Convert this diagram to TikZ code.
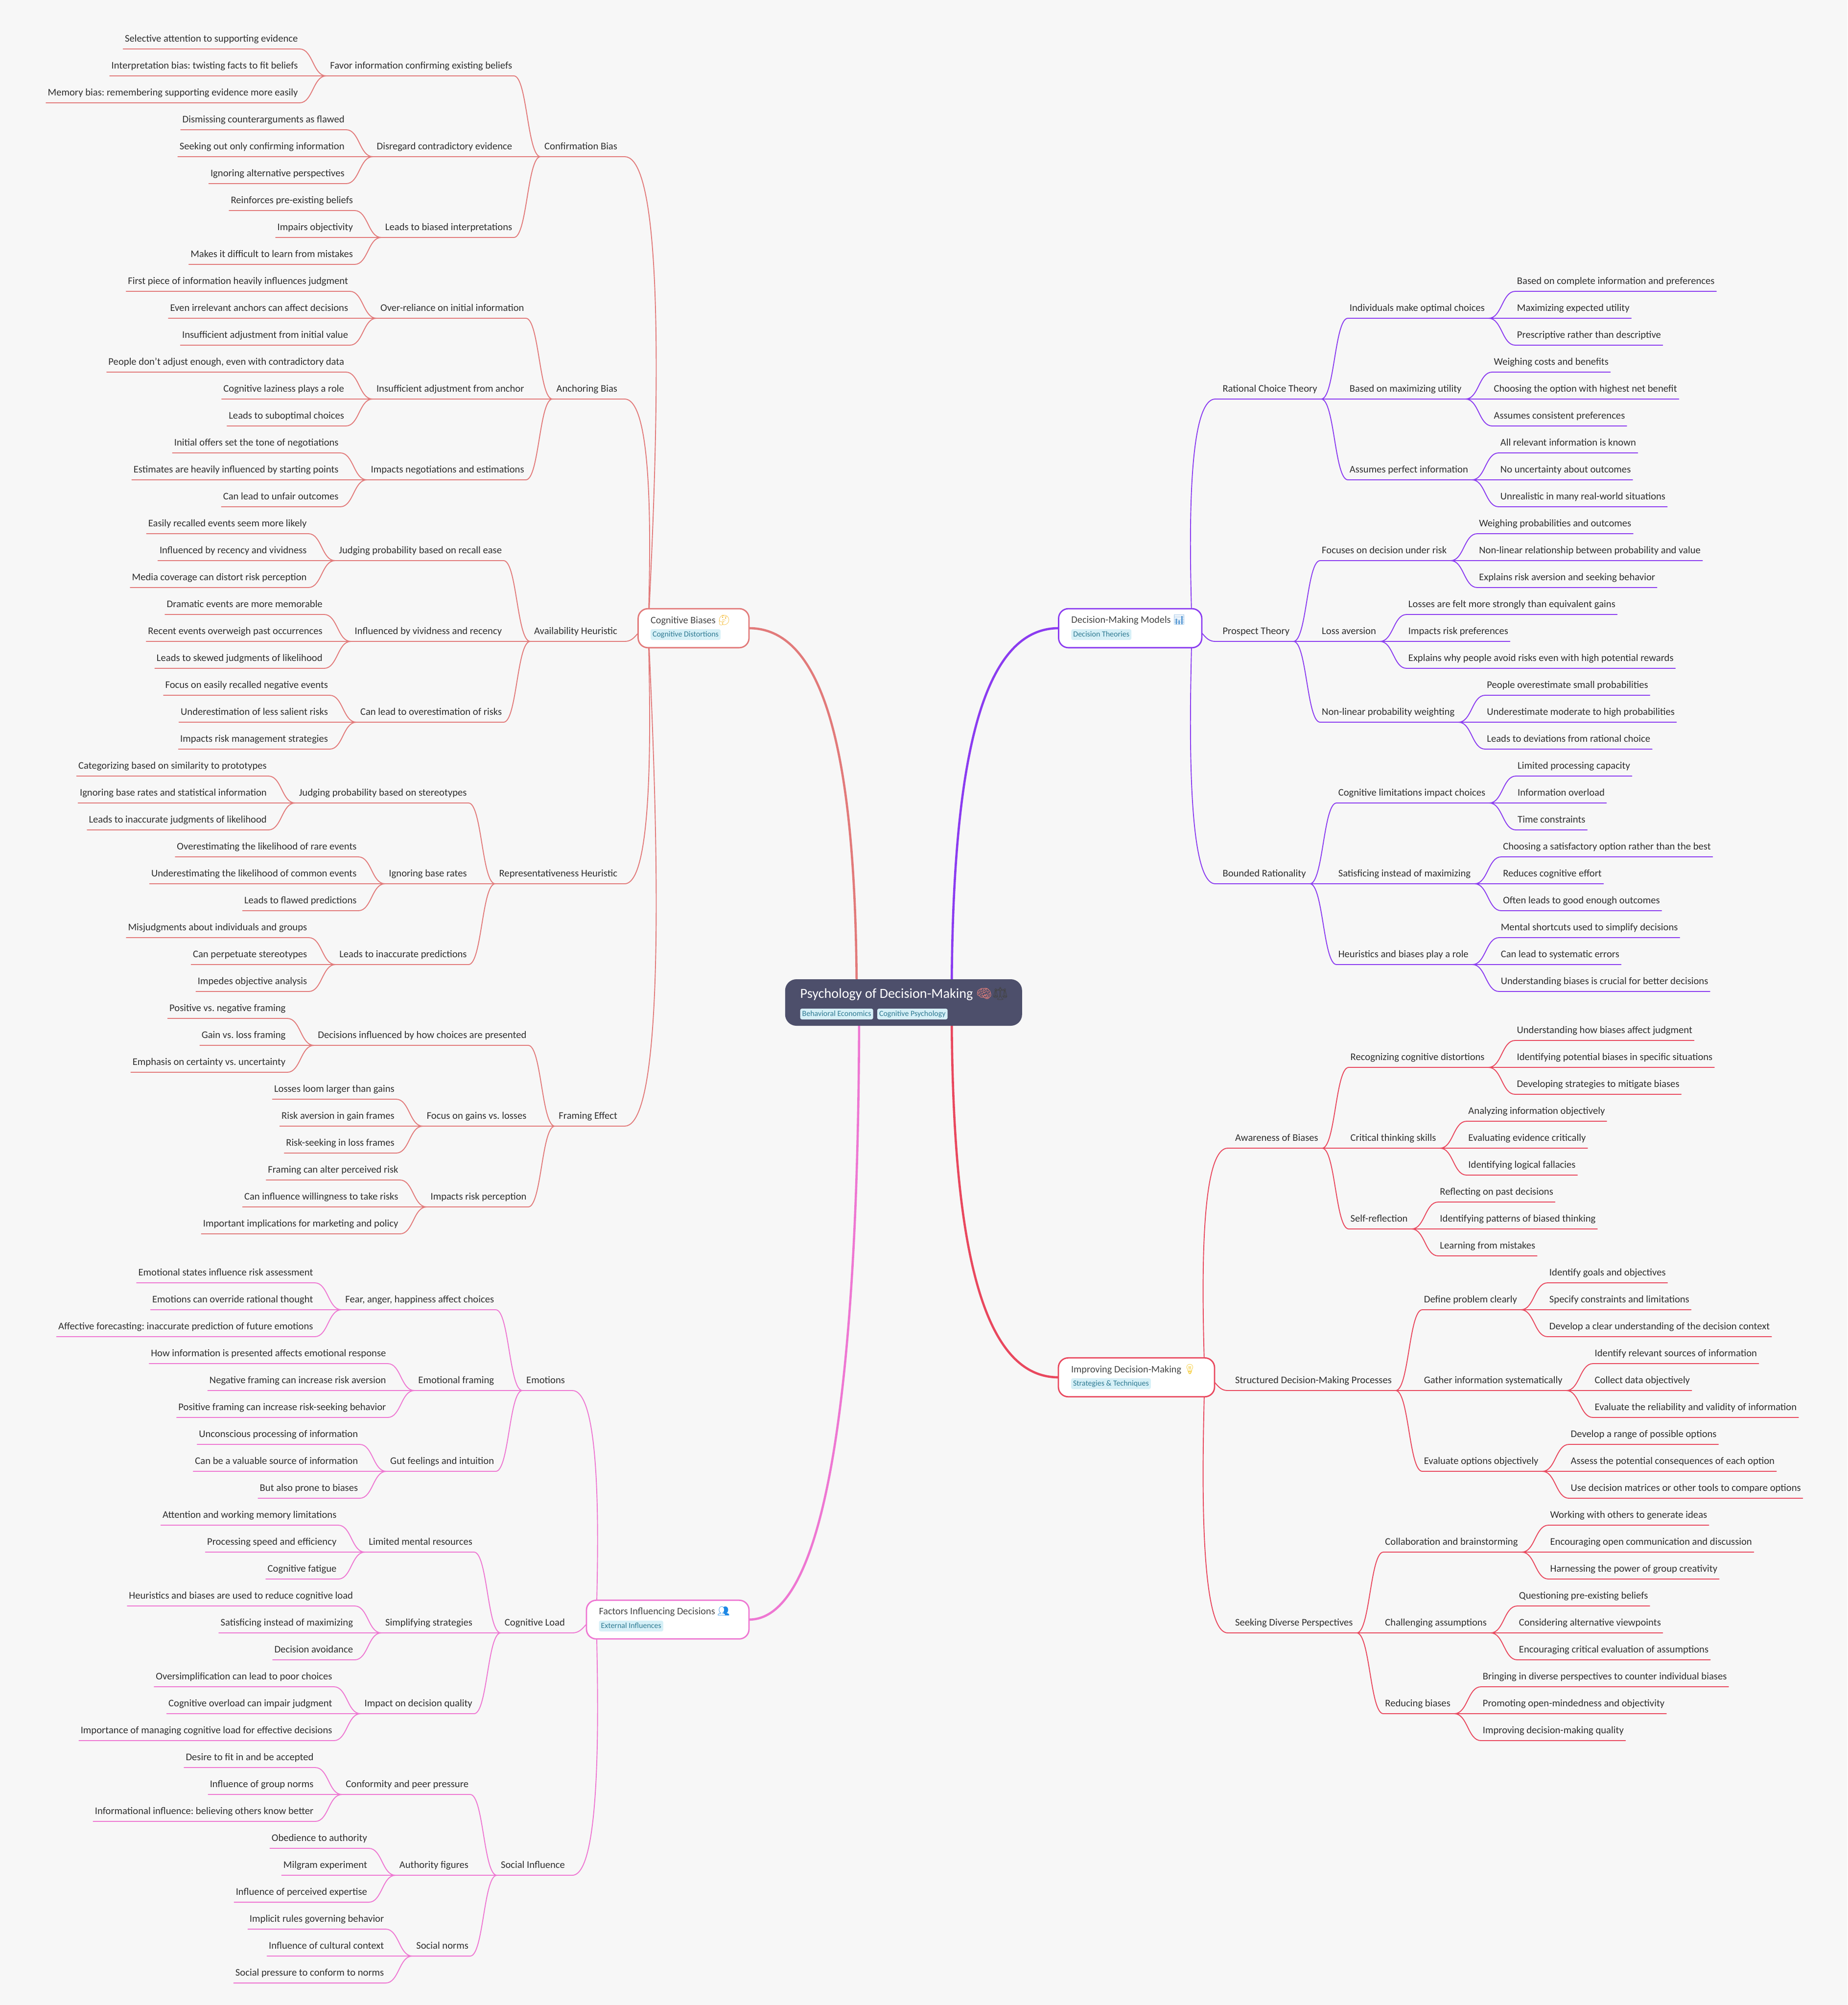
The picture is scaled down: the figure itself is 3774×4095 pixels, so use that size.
\documentclass[tikz,border=0pt]{standalone}
\usepackage{fontspec}
\setmainfont{Carlito}
\newfontfamily\emo{Noto Emoji}
\usetikzlibrary{calc}
\definecolor{bgc}{HTML}{F7F7F7}
\definecolor{cogc}{HTML}{E27A7A}
\definecolor{decc}{HTML}{8B3CF0}
\definecolor{impc}{HTML}{E9485E}
\definecolor{facc}{HTML}{EE77D2}
\definecolor{rootc}{HTML}{4D4F6B}
\definecolor{tagf}{HTML}{D6F0F7}
\definecolor{tagt}{HTML}{2F7A92}
\definecolor{txtc}{HTML}{2E2E2E}
\definecolor{ttlc}{HTML}{444444}
\pgfdeclarelayer{bg}\pgfdeclarelayer{edges}\pgfsetlayers{bg,edges,main}
\newcommand\FS{\fontsize{20.65}{24}\selectfont\frenchspacing}
\tikzset{
 lbl/.style={inner sep=0pt,outer sep=0pt,text height=15pt,text depth=15pt,text=txtc,font=\FS},
 wire/.style={line width=1.9pt,line cap=round,draw=cur},
 mainlink/.style={line width=4.6pt},
 branchbox/.style={draw=cur,line width=2.8pt,fill=white,rounded corners=20pt,inner sep=0pt,outer sep=0pt},
 rootbox/.style={fill=rootc,rounded corners=23pt,inner sep=0pt,outer sep=0pt},
 ttl/.style={inner sep=0pt,outer sep=0pt,anchor=base west,text=ttlc,font=\fontsize{20.3}{24}\selectfont},
 roottl/.style={inner sep=0pt,outer sep=0pt,anchor=base west,text=white,font=\fontsize{28.2}{32}\selectfont},
 tagbox/.style={fill=tagf,rounded corners=3.5pt,inner xsep=4pt,inner ysep=0pt,outer sep=0pt,anchor=north west,text=tagt,minimum height=22pt,text height=12pt,text depth=4pt,font=\fontsize{16}{18}\selectfont},
}
% left side connectors
\newcommand\sigL[2]{\begin{pgfonlayer}{edges}\draw[wire] let \p1=(#2.south east),\p2=(#1),\n1={(\x1+\x2)/2} in (#2.south west) -- (\p1) .. controls (\n1,\y1) and (\n1,\y2) .. (\p2);\end{pgfonlayer}}
\newcommand\sigR[2]{\begin{pgfonlayer}{edges}\draw[wire] let \p1=(#2.south west),\p2=(#1),\n1={(\x1+\x2)/2} in (#2.south east) -- (\p1) .. controls (\n1,\y1) and (\n1,\y2) .. (\p2);\end{pgfonlayer}}
\newcommand\trunkL[3]{\begin{pgfonlayer}{edges}\draw[wire] (#1.south west) -- (#1.south east) .. controls ([xshift=#3pt]#1.south east) and ([xshift=-4pt]#2) .. (#2);\end{pgfonlayer}}
\newcommand\trunkR[3]{\begin{pgfonlayer}{edges}\draw[wire] (#1.south east) -- (#1.south west) .. controls ([xshift=-#3pt]#1.south west) and ([xshift=4pt]#2) .. (#2);\end{pgfonlayer}}
\newcommand\placeL[4]{\coordinate (tmpx) at ([xshift=-54.5pt]#2.south west);\coordinate (tmpy) at (0,#3);\node[lbl,anchor=south east] (#1) at (tmpx |- tmpy) {#4};}
\newcommand\placeR[4]{\coordinate (tmpx) at ([xshift=54.5pt]#2.south east);\coordinate (tmpy) at (0,#3);\node[lbl,anchor=south west] (#1) at (tmpx |- tmpy) {#4};}
\newcommand\twigL[7]{\pgfmathtruncatemacro\ya{#3}\pgfmathtruncatemacro\yb{#3+55}\pgfmathtruncatemacro\yc{#3+110}%
 \placeL{#2}{#1}{\yb}{\kern8pt #4\kern3.5pt}%
 \placeL{#2a}{#2}{\ya}{\kern3.5pt #5\kern3.5pt}%
 \placeL{#2b}{#2}{\yb}{\kern3.5pt #6\kern3.5pt}%
 \placeL{#2c}{#2}{\yc}{\kern3.5pt #7\kern3.5pt}%
 \sigL{#1.south west}{#2}\sigL{#2.south west}{#2a}\sigL{#2.south west}{#2b}\sigL{#2.south west}{#2c}}
\newcommand\twigR[7]{\pgfmathtruncatemacro\ya{#3}\pgfmathtruncatemacro\yb{#3+55}\pgfmathtruncatemacro\yc{#3+110}%
 \placeR{#2}{#1}{\yb}{\kern3.5pt #4\kern8pt}%
 \placeR{#2a}{#2}{\ya}{\kern3.5pt #5\kern3.5pt}%
 \placeR{#2b}{#2}{\yb}{\kern3.5pt #6\kern3.5pt}%
 \placeR{#2c}{#2}{\yc}{\kern3.5pt #7\kern3.5pt}%
 \sigR{#1.south east}{#2}\sigR{#2.south east}{#2a}\sigR{#2.south east}{#2b}\sigR{#2.south east}{#2c}}
\newcommand\oneL[4]{\node[lbl,anchor=south east] (#1) at (#2,#3) {\kern8pt #4\kern15pt};}
\newcommand\oneR[4]{\node[lbl,anchor=south west] (#1) at (#2,#3) {\kern15pt #4\kern8pt};}
\begin{document}
\begin{tikzpicture}[x=1pt,y=-1pt]
\useasboundingbox (0,0) rectangle (3774,4095);
\begin{pgfonlayer}{bg}\fill[bgc] (0,0) rectangle (3774,4095);\end{pgfonlayer}

% root
\node[rootbox,minimum width=484pt,minimum height=95pt] (root) at (1845.8,2047.5) {};
\node[roottl] (roottitle) at (1634.6,2038) {Psychology of Decision-Making {\emo\fontsize{26}{30}\selectfont\textcolor[HTML]{E9817C}{🧠}\textcolor[HTML]{444444}{⚖}}};
\node[tagbox] (roottag1) at (1634.6,2060) {Behavioral Economics};
\node[tagbox] (roottag2) at (1792,2060) {Cognitive Psychology};
\coordinate (rootTL) at (1750,2048);
\coordinate (rootTR) at (1944,2048);
\coordinate (rootBL) at (1755,2048);
\coordinate (rootBR) at (1944,2048);

% ---------- Cognitive Biases
\begin{scope}
\colorlet{cur}{cogc}
\node[branchbox,minimum width=226.5pt,minimum height=79.7pt] (cog) at (1416.8,1283) {};
\node[ttl] (cogtitle) at (1329,1273) {Cognitive Biases {\emo\fontsize{20}{24}\selectfont\textcolor[HTML]{F4B92F}{🤔}}};
\node[tagbox] (cogtag) at (1329,1285) {Cognitive Distortions};
\coordinate (cogJ) at (1325,1283);
\begin{pgfonlayer}{edges}\draw[cogc,mainlink] (cog.east) .. controls (1700,1283) and (1750,1600) .. (rootTL);\end{pgfonlayer}
\oneL{conf}{1276}{320}{Confirmation Bias}\trunkL{conf}{cogJ}{110}
\twigL{conf}{favor}{100}{Favor information confirming existing beliefs}{Selective attention to supporting evidence}{Interpretation bias: twisting facts to fit beliefs}{Memory bias: remembering supporting evidence more easily}
\twigL{conf}{disr}{265}{Disregard contradictory evidence}{Dismissing counterarguments as flawed}{Seeking out only confirming information}{Ignoring alternative perspectives}
\twigL{conf}{lbi}{430}{Leads to biased interpretations}{Reinforces pre-existing beliefs}{Impairs objectivity}{Makes it difficult to learn from mistakes}
\oneL{anch}{1276}{815}{Anchoring Bias}\trunkL{anch}{cogJ}{73}
\twigL{anch}{over}{595}{Over-reliance on initial information}{First piece of information heavily influences judgment}{Even irrelevant anchors can affect decisions}{Insufficient adjustment from initial value}
\twigL{anch}{insf}{760}{Insufficient adjustment from anchor}{People don't adjust enough, even with contradictory data}{Cognitive laziness plays a role}{Leads to suboptimal choices}
\twigL{anch}{negt}{925}{Impacts negotiations and estimations}{Initial offers set the tone of negotiations}{Estimates are heavily influenced by starting points}{Can lead to unfair outcomes}
\oneL{avai}{1276}{1310}{Availability Heuristic}\sigL{cogJ}{avai}
\twigL{avai}{recl}{1090}{Judging probability based on recall ease}{Easily recalled events seem more likely}{Influenced by recency and vividness}{Media coverage can distort risk perception}
\twigL{avai}{vivd}{1255}{Influenced by vividness and recency}{Dramatic events are more memorable}{Recent events overweigh past occurrences}{Leads to skewed judgments of likelihood}
\twigL{avai}{ovst}{1420}{Can lead to overestimation of risks}{Focus on easily recalled negative events}{Underestimation of less salient risks}{Impacts risk management strategies}
\oneL{repr}{1276}{1805}{Representativeness Heuristic}\trunkL{repr}{cogJ}{73}
\twigL{repr}{ster}{1585}{Judging probability based on stereotypes}{Categorizing based on similarity to prototypes}{Ignoring base rates and statistical information}{Leads to inaccurate judgments of likelihood}
\twigL{repr}{base}{1750}{Ignoring base rates}{Overestimating the likelihood of rare events}{Underestimating the likelihood of common events}{Leads to flawed predictions}
\twigL{repr}{inac}{1915}{Leads to inaccurate predictions}{Misjudgments about individuals and groups}{Can perpetuate stereotypes}{Impedes objective analysis}
\oneL{fram}{1276}{2300}{Framing Effect}\trunkL{fram}{cogJ}{110}
\twigL{fram}{pres}{2080}{Decisions influenced by how choices are presented}{Positive vs. negative framing}{Gain vs. loss framing}{Emphasis on certainty vs. uncertainty}
\twigL{fram}{gain}{2245}{Focus on gains vs. losses}{Losses loom larger than gains}{Risk aversion in gain frames}{Risk-seeking in loss frames}
\twigL{fram}{perc}{2410}{Impacts risk perception}{Framing can alter perceived risk}{Can influence willingness to take risks}{Important implications for marketing and policy}
\end{scope}

% ---------- Factors
\begin{scope}
\colorlet{cur}{facc}
\node[branchbox,minimum width=332pt,minimum height=79pt] (fac) at (1364,3307.8) {};
\node[ttl] (factitle) at (1223.5,3297.7) {Factors Influencing Decisions {\emo\fontsize{20}{24}\selectfont\textcolor[HTML]{1E88E5}{👥}}};
\node[tagbox] (factag) at (1223.5,3310) {External Influences};
\coordinate (facJ) at (1219,3308);
\begin{pgfonlayer}{edges}\draw[facc,mainlink] (fac.east) .. controls (1700,3308) and (1755,2758) .. (rootBL);\end{pgfonlayer}
\oneL{emot}{1169}{2840}{Emotions}\trunkL{emot}{facJ}{73}
\twigL{emot}{fear}{2620}{Fear, anger, happiness affect choices}{Emotional states influence risk assessment}{Emotions can override rational thought}{Affective forecasting: inaccurate prediction of future emotions}
\twigL{emot}{efrm}{2785}{Emotional framing}{How information is presented affects emotional response}{Negative framing can increase risk aversion}{Positive framing can increase risk-seeking behavior}
\twigL{emot}{gutf}{2950}{Gut feelings and intuition}{Unconscious processing of information}{Can be a valuable source of information}{But also prone to biases}
\oneL{load}{1169}{3335}{Cognitive Load}\sigL{facJ}{load}
\twigL{load}{lmem}{3115}{Limited mental resources}{Attention and working memory limitations}{Processing speed and efficiency}{Cognitive fatigue}
\twigL{load}{simp}{3280}{Simplifying strategies}{Heuristics and biases are used to reduce cognitive load}{Satisficing instead of maximizing}{Decision avoidance}
\twigL{load}{impq}{3445}{Impact on decision quality}{Oversimplification can lead to poor choices}{Cognitive overload can impair judgment}{Importance of managing cognitive load for effective decisions}
\oneL{socl}{1169}{3830}{Social Influence}\trunkL{socl}{facJ}{73}
\twigL{socl}{conf2}{3610}{Conformity and peer pressure}{Desire to fit in and be accepted}{Influence of group norms}{Informational influence: believing others know better}
\twigL{socl}{auth}{3775}{Authority figures}{Obedience to authority}{Milgram experiment}{Influence of perceived expertise}
\twigL{socl}{norm}{3940}{Social norms}{Implicit rules governing behavior}{Influence of cultural context}{Social pressure to conform to norms}
\end{scope}

% ---------- Decision-Making Models
\begin{scope}
\colorlet{cur}{decc}
\node[branchbox,minimum width=292.5pt,minimum height=79.7pt] (dec) at (2308.7,1283) {};
\node[ttl] (dectitle) at (2188.4,1272.7) {Decision-Making Models {\emo\fontsize{20}{24}\selectfont\textcolor[HTML]{5B9BD5}{📊}}};
\node[tagbox] (dectag) at (2188.4,1285) {Decision Theories};
\coordinate (decJ) at (2434,1283);
\begin{pgfonlayer}{edges}\draw[decc,mainlink] (dec.west) .. controls (1993,1283) and (1944,1600) .. (rootTR);\end{pgfonlayer}
\oneR{rati}{2482.5}{815}{Rational Choice Theory}\trunkR{rati}{decJ}{73}
\twigR{rati}{indv}{595}{Individuals make optimal choices}{Based on complete information and preferences}{Maximizing expected utility}{Prescriptive rather than descriptive}
\twigR{rati}{maxu}{760}{Based on maximizing utility}{Weighing costs and benefits}{Choosing the option with highest net benefit}{Assumes consistent preferences}
\twigR{rati}{perf}{925}{Assumes perfect information}{All relevant information is known}{No uncertainty about outcomes}{Unrealistic in many real-world situations}
\oneR{pros}{2482.5}{1310}{Prospect Theory}\sigR{decJ}{pros}
\twigR{pros}{undr}{1090}{Focuses on decision under risk}{Weighing probabilities and outcomes}{Non-linear relationship between probability and value}{Explains risk aversion and seeking behavior}
\twigR{pros}{loss}{1255}{Loss aversion}{Losses are felt more strongly than equivalent gains}{Impacts risk preferences}{Explains why people avoid risks even with high potential rewards}
\twigR{pros}{nonl}{1420}{Non-linear probability weighting}{People overestimate small probabilities}{Underestimate moderate to high probabilities}{Leads to deviations from rational choice}
\oneR{boun}{2482.5}{1805}{Bounded Rationality}\trunkR{boun}{decJ}{73}
\twigR{boun}{clim}{1585}{Cognitive limitations impact choices}{Limited processing capacity}{Information overload}{Time constraints}
\twigR{boun}{sats}{1750}{Satisficing instead of maximizing}{Choosing a satisfactory option rather than the best}{Reduces cognitive effort}{Often leads to good enough outcomes}
\twigR{boun}{heur}{1915}{Heuristics and biases play a role}{Mental shortcuts used to simplify decisions}{Can lead to systematic errors}{Understanding biases is crucial for better decisions}
\end{scope}

% ---------- Improving Decision-Making
\begin{scope}
\colorlet{cur}{impc}
\node[branchbox,minimum width=319pt,minimum height=79.4pt] (imp) at (2321.5,2813) {};
\node[ttl] (imptitle) at (2188,2803) {Improving Decision-Making {\emo\fontsize{20}{24}\selectfont\textcolor[HTML]{F6C61C}{💡}}};
\node[tagbox] (imptag) at (2188,2815) {Strategies \& Techniques};
\coordinate (impJ) at (2460,2813);
\begin{pgfonlayer}{edges}\draw[impc,mainlink] (imp.west) .. controls (1993,2813) and (1944,2496) .. (rootBR);\end{pgfonlayer}
\oneR{awar}{2508}{2345}{Awareness of Biases}\trunkR{awar}{impJ}{73}
\twigR{awar}{rcog}{2125}{Recognizing cognitive distortions}{Understanding how biases affect judgment}{Identifying potential biases in specific situations}{Developing strategies to mitigate biases}
\twigR{awar}{crit}{2290}{Critical thinking skills}{Analyzing information objectively}{Evaluating evidence critically}{Identifying logical fallacies}
\twigR{awar}{self}{2455}{Self-reflection}{Reflecting on past decisions}{Identifying patterns of biased thinking}{Learning from mistakes}
\oneR{stru}{2508}{2840}{Structured Decision-Making Processes}\sigR{impJ}{stru}
\twigR{stru}{defp}{2620}{Define problem clearly}{Identify goals and objectives}{Specify constraints and limitations}{Develop a clear understanding of the decision context}
\twigR{stru}{gath}{2785}{Gather information systematically}{Identify relevant sources of information}{Collect data objectively}{Evaluate the reliability and validity of information}
\twigR{stru}{eval}{2950}{Evaluate options objectively}{Develop a range of possible options}{Assess the potential consequences of each option}{Use decision matrices or other tools to compare options}
\oneR{seek}{2508}{3335}{Seeking Diverse Perspectives}\trunkR{seek}{impJ}{73}
\twigR{seek}{coll}{3115}{Collaboration and brainstorming}{Working with others to generate ideas}{Encouraging open communication and discussion}{Harnessing the power of group creativity}
\twigR{seek}{chal}{3280}{Challenging assumptions}{Questioning pre-existing beliefs}{Considering alternative viewpoints}{Encouraging critical evaluation of assumptions}
\twigR{seek}{redc}{3445}{Reducing biases}{Bringing in diverse perspectives to counter individual biases}{Promoting open-mindedness and objectivity}{Improving decision-making quality}
\end{scope}
\end{tikzpicture}
\end{document}
